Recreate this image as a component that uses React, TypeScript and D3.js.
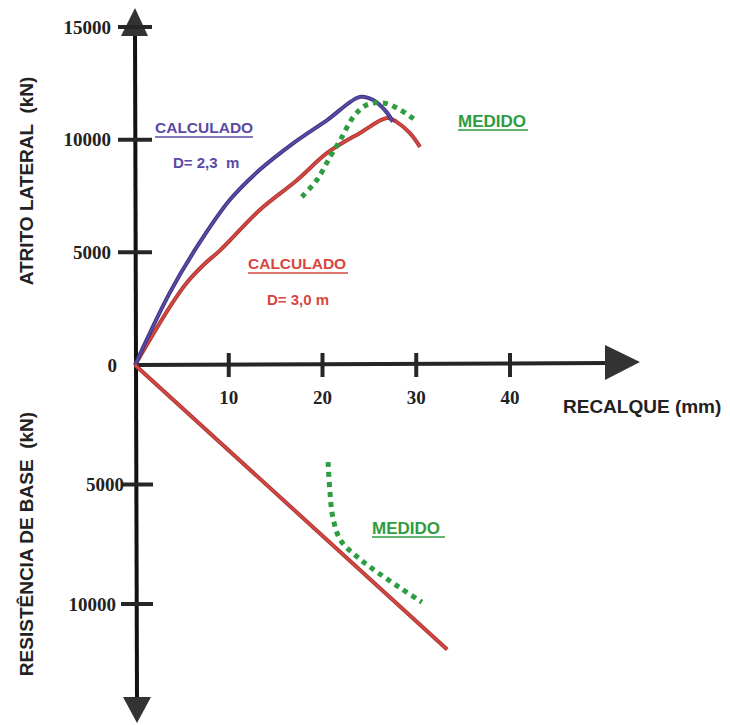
import React from "react";
import * as d3 from "d3";

// settlement (mm) ticks and load ticks (kN)
const xTicks = [10, 20, 30, 40];
const lateralTicks = [0, 5000, 10000, 15000];
const baseTicks = [5000, 10000];

// lateral friction, calculated D = 2,3 m
const calc23Mm = [0, 3.7, 6.6, 10.1, 13.3, 16.9, 20.5, 24.0, 25.4, 26.9, 27.5];
const calc23Kn = [0, 3200, 5240, 7320, 8660, 9850, 10870, 11900, 11760, 11190, 10790];

// lateral friction, calculated D = 3,0 m
const calc30Mm = [0, 3.7, 5.5, 7.3, 9.1, 13.3, 17.3, 20.5, 24.0, 26.9, 27.9, 29.3, 30.4];
const calc30Kn = [0, 2570, 3640, 4440, 5100, 6880, 8210, 9410, 10300, 10960, 10790, 10300, 9680];

// lateral friction, measured
const medLatMm = [17.8, 19.4, 20.8, 21.9, 23.3, 24.7, 26.5, 28.3, 29.9];
const medLatKn = [7460, 8210, 9230, 9990, 11010, 11540, 11630, 11320, 10870];

// base resistance, calculated and measured
const calcBaseMm = [0, 33.3];
const calcBaseKn = [0, 11900];
const medBaseMm = [20.6, 20.8, 21.1, 21.9, 23.7, 25.8, 28.3, 30.6];
const medBaseKn = [4060, 5360, 6360, 7320, 8030, 8660, 9330, 9920];

const SANS = "'Liberation Sans', Arial, sans-serif";
const SERIF = "'Liberation Serif', 'Times New Roman', serif";
const BLUE = "#5a4aa6";
const RED = "#d8463f";
const GREEN = "#2e9c40";
const AXIS = "#262626";

const zip = (xs: number[], ys: number[]) => xs.map((x, i) => [x, ys[i]] as [number, number]);

export default function App() {
  const x = d3.scaleLinear().domain([0, 40]).range([135, 510]);
  const yUp = d3.scaleLinear().domain([0, 15000]).range([365, 27]);
  const yDown = d3.scaleLinear().domain([0, 10000]).range([365, 604]);

  const upLine = d3
    .line<[number, number]>()
    .x(d => x(d[0]))
    .y(d => yUp(d[1]))
    .curve(d3.curveCatmullRom);
  const downLine = d3
    .line<[number, number]>()
    .x(d => x(d[0]))
    .y(d => yDown(d[1]))
    .curve(d3.curveCatmullRom);

  const x0 = x(0);

  return (
    <svg
      width={730}
      height={725}
      style={{ position: "absolute", left: 0, top: 0, background: "#fff" }}
    >
      {/* axis titles */}
      <text
        transform="translate(33,181) rotate(-90)"
        textAnchor="middle"
        fontFamily={SANS}
        fontWeight="bold"
        fontSize={19}
        fill="#222"
        style={{ whiteSpace: "pre" }}
      >
        {"ATRITO LATERAL  (kN)"}
      </text>
      <text
        transform="translate(33,544) rotate(-90)"
        textAnchor="middle"
        fontFamily={SANS}
        fontWeight="bold"
        fontSize={19}
        fill="#222"
        style={{ whiteSpace: "pre" }}
      >
        {"RESISTÊNCIA DE BASE  (kN)"}
      </text>
      <text x={563} y={413} fontFamily={SANS} fontWeight="bold" fontSize={19} fill="#222">
        RECALQUE (mm)
      </text>

      {/* axes */}
      <line x1={x0} y1={30} x2={x0 + 2} y2={700} stroke="#111" strokeWidth={4} />
      <line x1={x0} y1={yUp(0)} x2={610} y2={yUp(0) - 2} stroke={AXIS} strokeWidth={4} />
      <polygon points={`${x0},8 ${x0 - 14},36 ${x0 + 13},36`} fill="#333" />
      <polygon points={`${x0 + 2},723 ${x0 - 12},697 ${x0 + 16},697`} fill="#333" />
      <polygon points="640,362 605,345 605,380" fill="#333" />

      {/* x ticks */}
      {xTicks.map(t => (
        <g key={"x" + t}>
          <line x1={x(t)} y1={353} x2={x(t)} y2={377} stroke={AXIS} strokeWidth={4} />
          <text
            x={x(t)}
            y={404}
            textAnchor="middle"
            fontFamily={SERIF}
            fontWeight="bold"
            fontSize={19}
            fill="#222"
          >
            {t}
          </text>
        </g>
      ))}

      {/* lateral ticks */}
      {lateralTicks.map(t => (
        <g key={"u" + t}>
          {t > 0 && (
            <line x1={x0 - 17} y1={yUp(t)} x2={x0 + 17} y2={yUp(t)} stroke={AXIS} strokeWidth={4} />
          )}
          <text
            x={t === 0 ? 117 : 111}
            y={yUp(t)}
            dy="0.35em"
            textAnchor="end"
            fontFamily={SERIF}
            fontWeight="bold"
            fontSize={19}
            fill="#222"
          >
            {t}
          </text>
        </g>
      ))}

      {/* base ticks */}
      {baseTicks.map(t => (
        <g key={"d" + t}>
          <line x1={x0 - 14} y1={yDown(t)} x2={x0 + 18} y2={yDown(t)} stroke={AXIS} strokeWidth={4} />
          <text
            x={t === 5000 ? 124 : 116}
            y={yDown(t)}
            dy="0.35em"
            textAnchor="end"
            fontFamily={SERIF}
            fontWeight="bold"
            fontSize={19}
            fill="#222"
          >
            {t}
          </text>
        </g>
      ))}

      {/* calculated curves */}
      <path d={upLine(zip(calc30Mm, calc30Kn)) || ""} fill="none" stroke="#a83a38" strokeWidth={4} />
      <path d={upLine(zip(calc30Mm, calc30Kn)) || ""} fill="none" stroke={RED} strokeWidth={2} />
      <path d={upLine(zip(calc23Mm, calc23Kn)) || ""} fill="none" stroke="#3e3482" strokeWidth={4} />
      <path d={upLine(zip(calc23Mm, calc23Kn)) || ""} fill="none" stroke={BLUE} strokeWidth={2} />
      <path d={downLine(zip(calcBaseMm, calcBaseKn)) || ""} fill="none" stroke="#a83a38" strokeWidth={4} />
      <path d={downLine(zip(calcBaseMm, calcBaseKn)) || ""} fill="none" stroke={RED} strokeWidth={2} />

      {/* measured curves */}
      <path
        d={upLine(zip(medLatMm, medLatKn)) || ""}
        fill="none"
        stroke={GREEN}
        strokeWidth={5}
        strokeDasharray="5 5"
      />
      <path
        d={downLine(zip(medBaseMm, medBaseKn)) || ""}
        fill="none"
        stroke={GREEN}
        strokeWidth={5}
        strokeDasharray="5 5"
      />

      {/* annotations */}
      <g fontFamily={SANS} fontWeight="bold">
        <text x={155} y={133} fontSize={15.5} fill={BLUE}>CALCULADO</text>
        <line x1={155} y1={137} x2={253} y2={137} stroke={BLUE} strokeWidth={1.5} />
        <text x={173} y={168} fontSize={15} fill={BLUE} style={{ whiteSpace: "pre" }}>
          {"D= 2,3  m"}
        </text>

        <text x={248} y={269} fontSize={15.5} fill={RED}>CALCULADO</text>
        <line x1={248} y1={273} x2={348} y2={273} stroke={RED} strokeWidth={1.5} />
        <text x={267} y={305} fontSize={15} fill={RED}>D= 3,0 m</text>

        <text x={458} y={127} fontSize={17} fill={GREEN}>MEDIDO</text>
        <line x1={458} y1={130} x2={528} y2={130} stroke={GREEN} strokeWidth={1.5} />

        <text x={372} y={534} fontSize={17} fill={GREEN}>MEDIDO</text>
        <line x1={372} y1={537} x2={445} y2={537} stroke={GREEN} strokeWidth={1.5} />
      </g>
    </svg>
  );
}
